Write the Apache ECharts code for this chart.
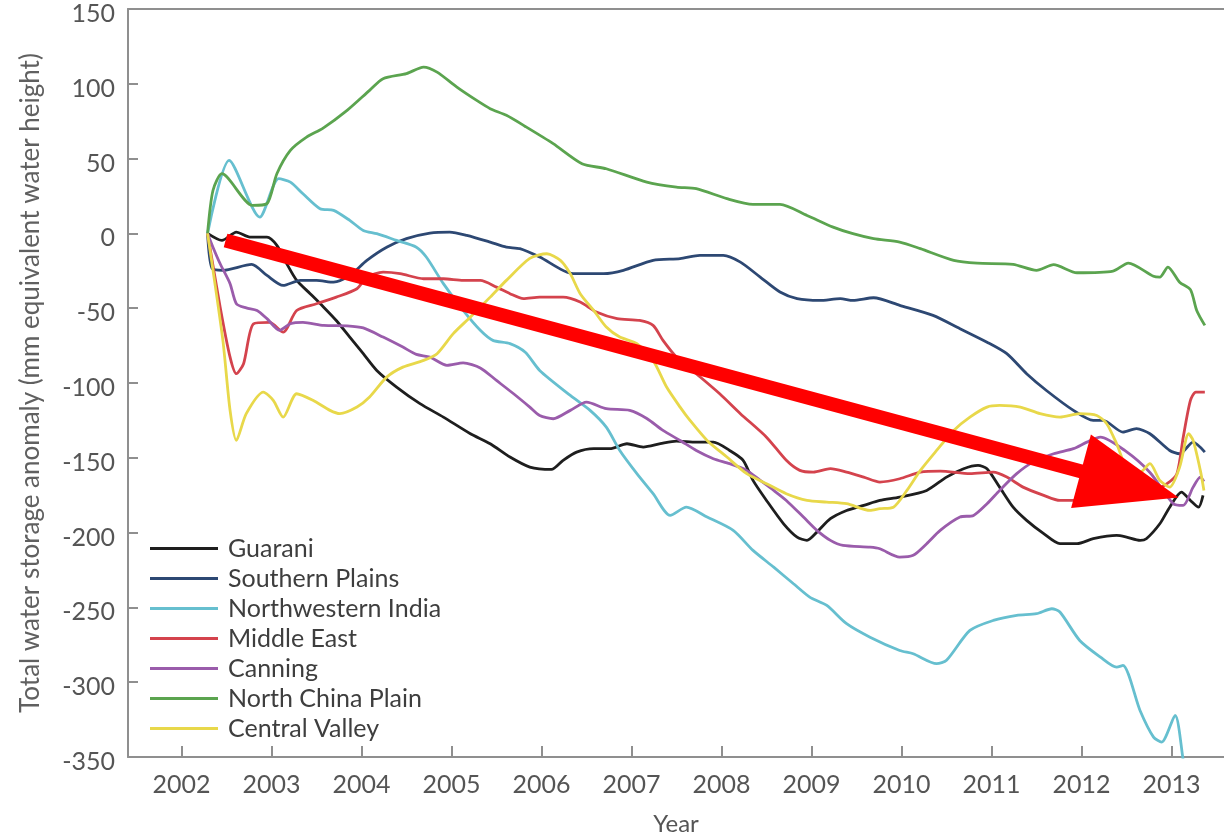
<!DOCTYPE html>
<html>
<head>
<meta charset="utf-8">
<title>Total water storage anomaly</title>
<script src="https://cdn.jsdelivr.net/npm/echarts@6/dist/echarts.min.js"></script>
<style>
  html, body { margin: 0; padding: 0; background: #ffffff; }
  #chart { width: 1224px; height: 835px; }
</style>
</head>
<body>
<div id="chart"></div>
<script>
// Year ticks shown along the bottom axis
const yearTicks = [2002, 2003, 2004, 2005, 2006, 2007, 2008, 2009, 2010, 2011, 2012, 2013];

// Region names, in legend order
const regions = ['Guarani', 'Southern Plains', 'Northwestern India', 'Middle East', 'Canning', 'North China Plain', 'Central Valley'];

// Each series: [decimal year, anomaly in mm]
const guarani = [
  [2002.29, 0], [2002.45, -4.7], [2002.61, 0.9], [2002.76, -2.5], [2002.95, -2.5], [2003.06, -8.0],
  [2003.17, -20.3], [2003.28, -31.4], [2003.43, -40.3], [2003.58, -49.3], [2003.72, -58.2], [2003.87, -69.3],
  [2004.02, -80.4], [2004.17, -91.6], [2004.39, -102.7], [2004.65, -113.8], [2004.91, -122.8], [2005.21, -133.9],
  [2005.43, -140.6], [2005.65, -149.5], [2005.87, -156.2], [2006.11, -157.8], [2006.24, -151.7], [2006.39, -146.2],
  [2006.58, -143.9], [2006.76, -143.9], [2006.95, -140.6], [2007.13, -142.8], [2007.32, -140.6], [2007.50, -138.8],
  [2007.72, -139.5], [2007.91, -139.5], [2008.09, -145.1], [2008.24, -151.7], [2008.35, -165.1], [2008.50, -178.5],
  [2008.69, -194.1], [2008.84, -203.0], [2008.95, -205.2], [2009.06, -199.7], [2009.21, -190.7], [2009.39, -185.2],
  [2009.58, -181.8], [2009.76, -178.5], [2009.98, -176.3], [2010.28, -171.8], [2010.50, -162.9], [2010.69, -157.3],
  [2010.85, -155.1], [2010.95, -157.3], [2011.09, -169.6], [2011.24, -183.0], [2011.39, -191.8], [2011.58, -200.7],
  [2011.76, -207.4], [2011.95, -207.4], [2012.13, -204.1], [2012.39, -201.9], [2012.50, -203.0], [2012.65, -205.2],
  [2012.72, -204.1], [2012.87, -194.1], [2012.98, -183.0], [2013.11, -172.9], [2013.21, -178.5], [2013.30, -183.0],
  [2013.35, -175.1]
];

const southernPlains = [
  [2002.29, 0], [2002.34, -23.4], [2002.46, -24.7], [2002.78, -20.7], [2002.95, -28.1], [2003.13, -34.8],
  [2003.32, -31.4], [2003.50, -31.4], [2003.69, -32.6], [2003.87, -28.1], [2004.06, -18.0], [2004.28, -9.2],
  [2004.50, -3.5], [2004.76, 0.2], [2004.98, 0.9], [2005.17, -1.3], [2005.43, -5.8], [2005.61, -9.2],
  [2005.76, -10.2], [2005.98, -15.8], [2006.35, -26.9], [2006.69, -26.9], [2006.91, -24.7], [2007.24, -18.0],
  [2007.54, -16.9], [2007.76, -14.7], [2008.02, -14.7], [2008.21, -19.2], [2008.43, -29.2], [2008.65, -39.2],
  [2008.84, -43.6], [2009.09, -44.8], [2009.32, -43.6], [2009.46, -44.8], [2009.69, -43.0], [2009.98, -48.1],
  [2010.35, -54.8], [2010.65, -63.7], [2010.95, -72.7], [2011.17, -80.4], [2011.39, -93.8], [2011.61, -105.0],
  [2011.91, -118.3], [2012.13, -125.0], [2012.24, -125.0], [2012.46, -132.8], [2012.61, -130.5], [2012.76, -133.9],
  [2012.98, -145.1], [2013.09, -147.3], [2013.24, -139.5], [2013.37, -146.2]
];

const northwesternIndia = [
  [2002.29, 0], [2002.53, 48.8], [2002.87, 10.9], [2003.08, 36.6], [2003.21, 34.3], [2003.35, 26.5],
  [2003.54, 16.5], [2003.69, 15.4], [2003.87, 8.7], [2004.02, 2.0], [2004.17, -0.2], [2004.39, -4.7],
  [2004.61, -9.2], [2004.72, -15.8], [2004.91, -33.6], [2005.13, -51.5], [2005.32, -64.8], [2005.46, -71.5],
  [2005.65, -73.7], [2005.82, -79.5], [2005.98, -91.6], [2006.32, -108.3], [2006.54, -118.3], [2006.72, -129.5],
  [2006.87, -145.1], [2007.06, -160.6], [2007.24, -174.0], [2007.43, -188.5], [2007.61, -183.0], [2007.84, -189.6],
  [2008.13, -198.5], [2008.35, -211.9], [2008.58, -223.1], [2008.80, -234.2], [2008.98, -243.1], [2009.17, -248.7],
  [2009.39, -260.9], [2009.65, -269.9], [2009.98, -278.8], [2010.13, -281.0], [2010.39, -287.6], [2010.50, -285.4],
  [2010.76, -265.4], [2011.02, -258.7], [2011.28, -255.3], [2011.50, -254.2], [2011.67, -250.9], [2011.76, -253.1],
  [2011.98, -272.1], [2012.21, -283.2], [2012.39, -289.9], [2012.46, -288.8], [2012.65, -318.9], [2012.80, -336.7],
  [2012.89, -340.0], [2013.04, -322.2], [2013.13, -352.3], [2013.16, -365.0]
];

const middleEast = [
  [2002.29, 0], [2002.43, -49.3], [2002.54, -82.7], [2002.61, -93.8], [2002.69, -87.1], [2002.80, -60.4],
  [2002.98, -59.5], [2003.13, -66.0], [2003.28, -51.5], [2003.50, -47.0], [2003.72, -42.6], [2003.95, -37.0],
  [2004.06, -29.2], [2004.24, -25.9], [2004.43, -26.9], [2004.69, -30.3], [2004.91, -30.3], [2005.13, -31.4],
  [2005.32, -31.4], [2005.50, -35.9], [2005.65, -40.3], [2005.80, -43.6], [2005.98, -42.6], [2006.24, -42.6],
  [2006.43, -45.9], [2006.61, -52.6], [2006.84, -57.0], [2007.09, -58.2], [2007.24, -61.5], [2007.35, -71.5],
  [2007.50, -82.7], [2007.72, -93.8], [2007.98, -107.2], [2008.21, -120.5], [2008.50, -136.2], [2008.72, -151.7],
  [2008.87, -158.4], [2009.02, -159.6], [2009.21, -157.3], [2009.39, -159.6], [2009.58, -162.9], [2009.76, -166.2],
  [2009.98, -164.0], [2010.21, -159.6], [2010.43, -158.9], [2010.76, -160.6], [2011.02, -159.6], [2011.17, -162.9],
  [2011.35, -169.6], [2011.58, -175.1], [2011.76, -178.5], [2012.09, -178.5], [2012.43, -176.5], [2012.76, -173.1],
  [2012.95, -167.3], [2013.06, -160.6], [2013.13, -136.2], [2013.21, -111.6], [2013.27, -106.1], [2013.37, -106.1]
];

const canning = [
  [2002.29, 0], [2002.35, -9.2], [2002.43, -20.3], [2002.54, -33.6], [2002.61, -47.0], [2002.72, -49.8],
  [2002.84, -51.5], [2002.95, -57.0], [2003.09, -64.8], [2003.21, -60.4], [2003.35, -59.5], [2003.58, -61.5],
  [2003.84, -61.8], [2004.02, -63.2], [2004.24, -69.3], [2004.46, -76.0], [2004.61, -80.9], [2004.76, -82.7],
  [2004.95, -88.2], [2005.13, -86.6], [2005.32, -89.9], [2005.50, -98.3], [2005.69, -107.2], [2005.87, -116.1],
  [2005.98, -121.7], [2006.13, -123.9], [2006.32, -118.3], [2006.50, -112.8], [2006.72, -117.2], [2006.98, -118.3],
  [2007.17, -123.7], [2007.35, -131.7], [2007.54, -138.4], [2007.72, -145.1], [2007.91, -150.6], [2008.09, -153.9],
  [2008.28, -158.4], [2008.43, -165.1], [2008.58, -171.8], [2008.72, -178.5], [2008.91, -189.6], [2009.06, -198.5],
  [2009.21, -205.2], [2009.35, -208.6], [2009.65, -209.7], [2009.76, -210.8], [2009.98, -216.4], [2010.13, -215.2],
  [2010.28, -207.4], [2010.43, -198.5], [2010.65, -189.6], [2010.80, -188.5], [2010.95, -180.7], [2011.09, -171.8],
  [2011.28, -160.6], [2011.46, -152.9], [2011.69, -147.3], [2011.91, -143.9], [2012.06, -139.5], [2012.21, -136.2],
  [2012.48, -145.1], [2012.76, -159.8], [2013.02, -180.7], [2013.13, -181.8], [2013.24, -169.6], [2013.32, -162.9],
  [2013.36, -165.8]
];

const northChinaPlain = [
  [2002.29, 0], [2002.35, 28.7], [2002.45, 39.9], [2002.79, 18.7], [2002.95, 19.9], [2003.06, 39.9],
  [2003.21, 55.5], [2003.39, 64.4], [2003.57, 70.2], [2003.84, 82.2], [2004.09, 95.6], [2004.24, 103.4],
  [2004.50, 106.8], [2004.69, 111.2], [2004.84, 107.8], [2005.06, 97.8], [2005.28, 88.9], [2005.43, 83.4],
  [2005.61, 78.9], [2005.82, 71.5], [2006.13, 60.0], [2006.45, 46.6], [2006.72, 43.2], [2007.17, 34.3],
  [2007.50, 30.9], [2007.72, 29.9], [2008.06, 23.2], [2008.35, 19.4], [2008.65, 19.4], [2008.95, 12.0],
  [2009.24, 4.2], [2009.46, -0.2], [2009.69, -3.5], [2009.98, -5.8], [2010.21, -10.2], [2010.58, -18.0],
  [2010.84, -19.9], [2011.24, -20.7], [2011.50, -24.7], [2011.69, -20.9], [2011.95, -26.3], [2012.35, -25.2],
  [2012.52, -19.9], [2012.80, -28.7], [2012.87, -29.2], [2012.96, -22.5], [2013.09, -32.6], [2013.21, -37.6],
  [2013.28, -51.5], [2013.37, -61.5]
];

const centralValley = [
  [2002.29, 0], [2002.46, -71.5], [2002.54, -118.3], [2002.61, -138.4], [2002.72, -120.5], [2002.91, -106.1],
  [2003.02, -111.6], [2003.13, -122.8], [2003.28, -107.2], [2003.46, -111.6], [2003.65, -118.3], [2003.76, -120.5],
  [2003.95, -116.1], [2004.09, -109.4], [2004.28, -96.1], [2004.46, -89.4], [2004.69, -84.9], [2004.84, -80.4],
  [2005.02, -67.0], [2005.21, -55.9], [2005.43, -42.6], [2005.61, -31.4], [2005.87, -16.7], [2006.06, -13.6],
  [2006.21, -18.0], [2006.32, -26.9], [2006.43, -40.3], [2006.58, -51.5], [2006.72, -62.6], [2006.87, -69.3],
  [2007.06, -73.7], [2007.24, -84.9], [2007.39, -102.7], [2007.54, -116.1], [2007.65, -125.0], [2007.84, -138.4],
  [2008.06, -149.5], [2008.28, -160.6], [2008.50, -167.3], [2008.72, -174.0], [2008.95, -178.5], [2009.17, -179.6],
  [2009.39, -180.7], [2009.65, -185.2], [2009.76, -184.0], [2009.91, -183.0], [2010.06, -171.8], [2010.21, -158.4],
  [2010.39, -145.1], [2010.58, -131.7], [2010.76, -122.8], [2010.95, -116.1], [2011.09, -115.0], [2011.32, -116.1],
  [2011.54, -120.5], [2011.76, -122.8], [2011.98, -120.5], [2012.17, -121.7], [2012.28, -127.2], [2012.39, -140.6],
  [2012.50, -156.2], [2012.65, -159.6], [2012.76, -153.9], [2012.87, -165.1], [2012.98, -169.6], [2013.09, -156.2],
  [2013.19, -133.9], [2013.24, -138.4], [2013.32, -158.4], [2013.36, -171.8]
];

// Trend arrow, from its tail to the centre of its head (data coordinates)
const trendArrow = [[2002.49, -4.7], [2012.536, -167.8]];

const seriesData = [guarani, southernPlains, northwesternIndia, middleEast, canning, northChinaPlain, centralValley];
const seriesColors = ['#1e1e1e', '#2d4873', '#66bfcf', '#d4434d', '#9a5cab', '#5ba44f', '#e8d84a'];

const axisGray = '#8f8f8f';
const textGray = '#555555';
const fontFamily = 'Lato, "Open Sans", sans-serif';

const chart = echarts.init(document.getElementById('chart'), null, { renderer: 'canvas' });

const lineSeries = regions.map((name, i) => ({
  name: name,
  type: 'line',
  data: seriesData[i],
  symbol: 'none',
  smooth: 0.25,
  clip: true,
  lineStyle: { width: 2.8, color: seriesColors[i] },
  itemStyle: { color: seriesColors[i] },
  emphasis: { disabled: true },
  z: 3
}));

lineSeries.push({
  name: 'trend',
  type: 'line',
  data: [],
  z: 10,
  silent: true,
  markLine: {
    silent: true,
    animation: false,
    symbol: ['none', 'triangle'],
    label: { show: false },
    emphasis: { disabled: true },
    lineStyle: { color: '#ff0000', width: 14, type: 'solid', opacity: 1, cap: 'butt' },
    data: [[
      { coord: trendArrow[0], symbol: 'none' },
      { coord: trendArrow[1], symbol: 'triangle', symbolSize: [76, 101], itemStyle: { color: '#ff0000' } }
    ]]
  }
});

chart.setOption({
  animation: false,
  backgroundColor: '#ffffff',
  textStyle: { fontFamily: fontFamily },
  grid: { left: 128, right: 0, top: 9, bottom: 78, containLabel: false, outerBoundsMode: 'none' },
  legend: {
    data: regions,
    orient: 'vertical',
    left: 150,
    top: 536,
    padding: 0,
    icon: 'rect',
    itemWidth: 68,
    itemHeight: 3,
    itemGap: 5,
    textStyle: { fontFamily: fontFamily, fontSize: 25, color: '#3e3e3e', lineHeight: 25, padding: [0, 0, 0, 5] },
    selectedMode: false
  },
  xAxis: [{
    type: 'value',
    min: 2001.406,
    max: 2013.583,
    name: 'Year',
    nameLocation: 'middle',
    nameGap: 55,
    nameTextStyle: { fontFamily: fontFamily, fontSize: 24, color: textGray },
    axisLine: { show: true, onZero: false, lineStyle: { color: axisGray, width: 2 } },
    axisTick: { show: true, inside: true, length: 11, customValues: yearTicks, lineStyle: { color: axisGray, width: 2 } },
    axisLabel: {
      customValues: yearTicks,
      margin: 15,
      fontFamily: fontFamily,
      fontSize: 25,
      color: textGray,
      formatter: (v) => String(Math.round(v))
    },
    splitLine: { show: false }
  }, {
    type: 'value',
    position: 'top',
    min: 2001.406,
    max: 2013.583,
    axisLine: { show: true, onZero: false, lineStyle: { color: axisGray, width: 2 } },
    axisTick: { show: false },
    axisLabel: { show: false },
    splitLine: { show: false }
  }],
  yAxis: {
    type: 'value',
    min: -350,
    max: 150,
    interval: 50,
    name: 'Total water storage anomaly (mm equivalent water height)',
    nameLocation: 'middle',
    nameGap: 84,
    nameTextStyle: { fontFamily: fontFamily, fontSize: 26, color: '#606060' },
    axisLine: { show: true, onZero: false, lineStyle: { color: axisGray, width: 2 } },
    axisTick: { show: true, inside: true, length: 10, lineStyle: { color: axisGray, width: 2 } },
    axisLabel: { margin: 13, verticalAlign: 'top', lineHeight: 10, fontFamily: fontFamily, fontSize: 25, color: textGray },
    splitLine: { show: false }
  },
  series: lineSeries
});
</script>
</body>
</html>
